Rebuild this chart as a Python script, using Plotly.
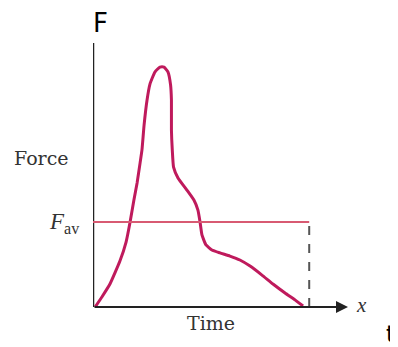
import plotly.graph_objects as go

# force-time curve (arbitrary units)
time = [0.1, 0.42, 0.8, 1.27, 1.56, 1.75, 1.93, 2.08, 2.22, 2.31, 2.41, 2.55, 2.69, 2.92,
        3.16, 3.35, 3.54, 3.66, 3.70, 3.70, 3.74, 3.80, 4.01, 4.43, 4.76, 4.95, 5.05,
        5.14, 5.33, 5.61, 5.99, 6.46, 6.93, 7.41, 7.97, 8.49, 9.06, 9.53, 9.91]
force = [0.0, 0.38, 0.87, 1.74, 2.46, 3.22, 4.05, 4.70, 5.45, 5.95, 6.89, 7.84, 8.45, 8.90,
         9.09, 9.09, 8.90, 8.41, 7.84, 6.70, 5.95, 5.30, 4.89, 4.43, 4.05, 3.67, 3.22,
         2.73, 2.35, 2.16, 2.05, 1.93, 1.78, 1.55, 1.21, 0.87, 0.53, 0.27, 0.04]

f_av = 3.22
t_end = 10.2
x_max = 12.03
y_max = 10.0

# page has an 8px body margin, so figure is a bit smaller than the window
W, H = 390, 339
l, r, t, b = 85, 50, 35, 40
pw, ph = W - l - r, H - t - b


def px(x, y):
    # screenshot pixel -> paper coords
    return (x - 8 - l) / pw, (H - b - (y - 8)) / ph


fig = go.Figure()

fig.add_trace(go.Scatter(x=time, y=force, mode='lines', line_shape='spline',
                         line=dict(color='#bf1a5c', width=3, smoothing=0.4),
                         showlegend=False, hoverinfo='skip'))

# average force line
fig.add_trace(go.Scatter(x=[0, t_end], y=[f_av, f_av], mode='lines',
                         line=dict(color='#d85a72', width=2),
                         showlegend=False, hoverinfo='skip'))

# dashed drop at end of impulse
fig.add_trace(go.Scatter(x=[t_end, t_end], y=[0, f_av], mode='lines',
                         line=dict(color='#555555', width=2, dash='dash'),
                         showlegend=False, hoverinfo='skip'))

# y axis
fig.add_shape(type='line', x0=0, y0=0, x1=0, y1=y_max,
              line=dict(color='#222222', width=2.5), layer='below')

# x axis with arrow
fig.add_annotation(x=x_max, y=0, ax=0, ay=0, xref='x', yref='y', axref='x', ayref='y',
                   text='', showarrow=True, arrowhead=2, arrowsize=1.2, arrowwidth=2,
                   arrowcolor='#222222')

serif = 'DejaVu Serif'
labels = [
    ('Force', 71, 158, 'right', serif, 19, '#333333'),
    ('<i>F</i><sub>av</sub>', 82, 223, 'right', 'Liberation Serif', 23, '#333333'),
    ('Time', 211, 323, 'center', serif, 19, '#333333'),
    ('<i>x</i>', 354, 305, 'left', 'Liberation Serif', 21, '#333333'),
    ('F', 100, 23, 'center', 'DejaVu Sans', 26, 'black'),
    ('t', 397, 334, 'right', 'DejaVu Sans', 23, 'black'),
]
for text, x, y, anchor, fam, size, col in labels:
    xp, yp = px(x, y)
    fig.add_annotation(x=xp, y=yp, xref='paper', yref='paper', text=text, showarrow=False,
                       xanchor=anchor, yanchor='middle',
                       font=dict(family=fam, size=size, color=col))

fig.update_xaxes(range=[0, x_max], visible=False, showgrid=False, zeroline=False)
fig.update_yaxes(range=[0, y_max], visible=False, showgrid=False, zeroline=False)
fig.update_layout(width=W, height=H, margin=dict(l=l, r=r, t=t, b=b),
                  plot_bgcolor='white', paper_bgcolor='white')

fig.write_html("out.html")
